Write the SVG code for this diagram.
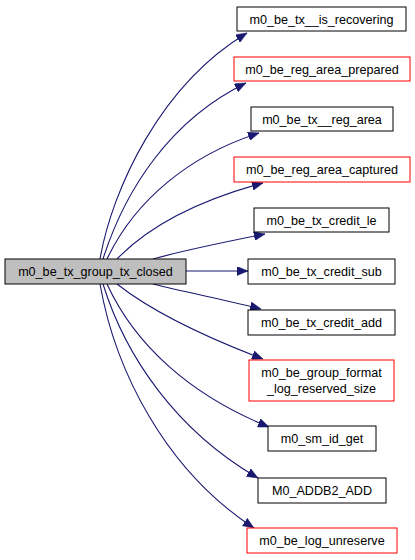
<svg xmlns="http://www.w3.org/2000/svg" width="415" height="560" viewBox="0 0 415 560">
<style>
.n rect{fill:#ffffff;stroke:#000000;stroke-width:1}
.n.red rect{stroke:#ff0000}
.n.main rect{fill:#bfbfbf}
text{font-family:"Liberation Sans",Arial,sans-serif;font-size:12.6px;text-anchor:middle;fill:#000000}
.e path{fill:none;stroke:#191970;stroke-width:1.1}
</style>
<defs>
<marker id="ah" markerUnits="userSpaceOnUse" markerWidth="11" markerHeight="9" viewBox="0 0 11 9" refX="11" refY="4.5" orient="auto">
<path d="M0,0 L11,4.5 L0,9 z" fill="#191970" stroke="#191970" stroke-width="0.5"/>
</marker>
</defs>
<rect width="415" height="560" fill="#ffffff"/>
<g id="edges" class="e">
<path marker-end="url(#ah)" d="M100,259 C112,190 160,85 247,33"/>
<path marker-end="url(#ah)" d="M103,259 C125,190 170,120 246,83"/>
<path marker-end="url(#ah)" d="M107,259 C135,200 190,155 259,133"/>
<path marker-end="url(#ah)" d="M117,259 C150,225 200,200 263,183"/>
<path marker-end="url(#ah)" d="M153,259 C185,250 225,242 265,234"/>
<path marker-end="url(#ah)" d="M186,271 L248,271"/>
<path marker-end="url(#ah)" d="M153,284 C185,292 225,300 261,309"/>
<path marker-end="url(#ah)" d="M117,284 C150,310 200,335 263,359"/>
<path marker-end="url(#ah)" d="M107,284 C135,345 190,395 269,427"/>
<path marker-end="url(#ah)" d="M103,284 C125,355 175,430 258,478"/>
<path marker-end="url(#ah)" d="M100,284 C115,370 165,470 254,528"/>
</g>
<g id="node_main" class="n main"><rect x="5" y="259" width="181" height="25"/><text x="95.5" y="276">m0_be_tx_group_tx_closed</text></g>
<g id="node_is_recovering" class="n"><rect x="237" y="7" width="169" height="24"/><text x="321.5" y="23.5">m0_be_tx__is_recovering</text></g>
<g id="node_reg_area_prepared" class="n red"><rect x="234" y="57" width="176" height="24"/><text x="322" y="73.5">m0_be_reg_area_prepared</text></g>
<g id="node_reg_area" class="n"><rect x="251" y="107" width="142" height="24"/><text x="322" y="123.5">m0_be_tx__reg_area</text></g>
<g id="node_reg_area_captured" class="n red"><rect x="234" y="157" width="176" height="25"/><text x="322" y="174">m0_be_reg_area_captured</text></g>
<g id="node_credit_le" class="n"><rect x="254" y="208" width="135" height="24"/><text x="321.5" y="224.5">m0_be_tx_credit_le</text></g>
<g id="node_credit_sub" class="n"><rect x="248" y="259" width="147" height="25"/><text x="321.5" y="276">m0_be_tx_credit_sub</text></g>
<g id="node_credit_add" class="n"><rect x="248" y="310" width="147" height="25"/><text x="321.5" y="327">m0_be_tx_credit_add</text></g>
<g id="node_group_format" class="n red"><rect x="249" y="360" width="145" height="41"/><text x="321.5" y="376.5">m0_be_group_format</text><text x="321.5" y="392.5">_log_reserved_size</text></g>
<g id="node_sm_id_get" class="n"><rect x="268" y="426" width="108" height="25"/><text x="322" y="443">m0_sm_id_get</text></g>
<g id="node_addb2_add" class="n"><rect x="258" y="478" width="128" height="25"/><text x="322" y="495">M0_ADDB2_ADD</text></g>
<g id="node_log_unreserve" class="n red"><rect x="247" y="528" width="150" height="25"/><text x="322" y="545">m0_be_log_unreserve</text></g>
</svg>
